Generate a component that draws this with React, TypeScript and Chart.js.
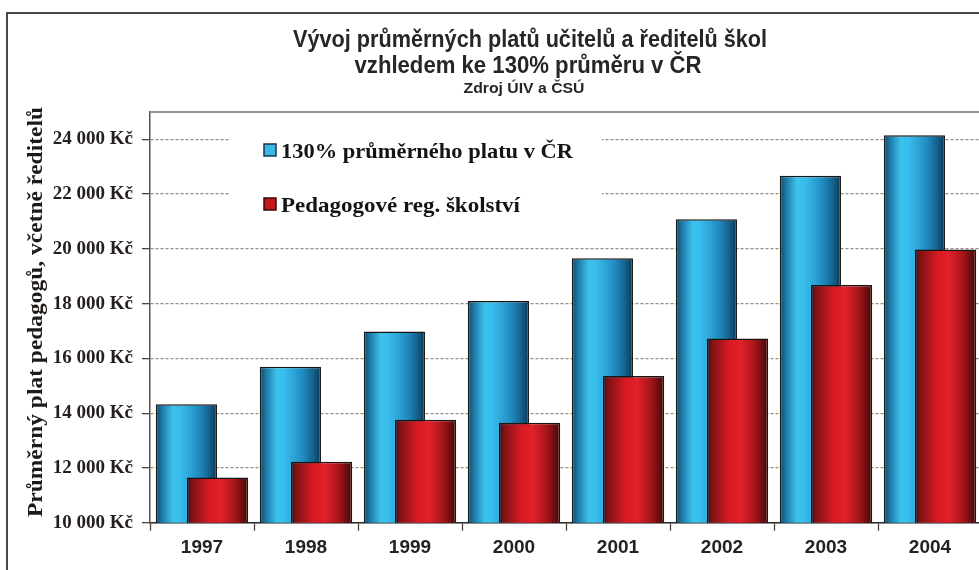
import React, { useEffect, useRef } from "react";
import { Chart, registerables } from "chart.js";

Chart.register(...registerables);

// ---- data ----
const years = ["1997", "1998", "1999", "2000", "2001", "2002", "2003", "2004"];
const avg130 = [14330, 15700, 16980, 18100, 19660, 21080, 22670, 24150];
const teachers = [11650, 12230, 13760, 13650, 15360, 16730, 18680, 19980];
const yTickValues = [10000, 12000, 14000, 16000, 18000, 20000, 22000, 24000];
const seriesNames = ["130% průměrného platu v ČR", "Pedagogové reg. školství"];
const titleLines = ["Vývoj průměrných platů učitelů a ředitelů škol", "vzhledem ke 130% průměru v ČR"];
const subtitleText = "Zdroj ÚIV a ČSÚ";
const yTitleText = "Průměrný plat pedagogů, včetně ředitelů";

const CAT_PCT = 0.6;
const BAR_PCT = 1.96;

const blueStops: [number, string][] = [
  [0, "#0d3f5c"], [0.07, "#176d96"], [0.28, "#3cc3ee"], [0.42, "#38bbea"],
  [0.72, "#1f88bf"], [0.9, "#145a82"], [1, "#0b3550"],
];
const redStops: [number, string][] = [
  [0, "#4e0a0c"], [0.1, "#861316"], [0.38, "#d91b22"], [0.55, "#e0202a"],
  [0.78, "#a8161b"], [0.92, "#650d10"], [1, "#420808"],
];

const fmtKc = (v: number) => String(v).replace(/\B(?=(\d{3})+(?!\d))/g, " ") + " Kč";

function barGradient(stops: [number, string][], side: number) {
  return (ctx: any) => {
    const chart = ctx.chart;
    const xs = chart.scales && chart.scales.x;
    if (ctx.type !== "data" || !xs || !chart.chartArea) return stops[3][1];
    const catW = Math.abs(xs.getPixelForValue(1) - xs.getPixelForValue(0));
    const slot = (catW * CAT_PCT) / 2;
    const center = xs.getPixelForValue(ctx.dataIndex) + (side * slot) / 2;
    const half = (slot * BAR_PCT) / 2;
    const g = chart.ctx.createLinearGradient(center - half, 0, center + half, 0);
    stops.forEach(([o, c]) => g.addColorStop(o, c));
    return g;
  };
}

function fitText(
  ctx: CanvasRenderingContext2D, text: string, x: number, y: number,
  width: number, font: string, align: CanvasTextAlign, rotate = 0
) {
  ctx.save();
  ctx.font = font;
  const w = ctx.measureText(text).width;
  ctx.translate(x, y);
  if (rotate) ctx.rotate(rotate);
  ctx.scale(width / w, 1);
  ctx.textAlign = align;
  ctx.textBaseline = "alphabetic";
  ctx.fillText(text, 0, 0);
  ctx.restore();
}

const decorPlugin = {
  id: "decor",
  beforeDatasetDraw(_chart: any, args: any) {
    if (args.index === 1) return false;
  },
  beforeDatasetsDraw(chart: any) {
    const { ctx, chartArea } = chart;
    ctx.save();
    // plot top border
    ctx.strokeStyle = "#9c918d";
    ctx.lineWidth = 2;
    ctx.beginPath();
    ctx.moveTo(chartArea.left, chartArea.top);
    ctx.lineTo(chartArea.right, chartArea.top);
    ctx.stroke();
    // legend box
    ctx.fillStyle = "#ffffff";
    ctx.fillRect(230, 118, 372, 114);
    const rows = [
      { y: 151, fill: "#3bb8e8", stroke: "#163848", w: 292 },
      { y: 205, fill: "#c6161c", stroke: "#3a0808", w: 239 },
    ];
    rows.forEach((r, i) => {
      ctx.fillStyle = r.fill;
      ctx.fillRect(264, r.y - 7, 12, 12);
      ctx.strokeStyle = r.stroke;
      ctx.lineWidth = 1.5;
      ctx.strokeRect(264, r.y - 7, 12, 12);
      ctx.fillStyle = "#141414";
      fitText(ctx, seriesNames[i], 281, r.y + 7, r.w, "bold 21px 'Liberation Serif', 'DejaVu Serif', serif", "left");
    });
    ctx.restore();
  },
  afterDatasetsDraw(chart: any) {
    const meta = chart.getDatasetMeta(1);
    const { ctx, chartArea } = chart;
    if (meta && !meta.hidden) {
      ctx.save();
      ctx.beginPath();
      ctx.rect(chartArea.left - 2, chartArea.top - 2, chartArea.right - chartArea.left + 4, chartArea.bottom - chartArea.top + 2);
      ctx.clip();
      meta.controller.draw();
      ctx.restore();
    }
  },
  afterDraw(chart: any) {
    const { ctx } = chart;
    ctx.save();
    // outer frame
    ctx.strokeStyle = "#4a4a4a";
    ctx.lineWidth = 2;
    ctx.beginPath();
    ctx.moveTo(7, 600);
    ctx.lineTo(7, 13);
    ctx.lineTo(1000, 13);
    ctx.stroke();
    // titles
    ctx.fillStyle = "#262626";
    const sans = "'Liberation Sans', Arial, sans-serif";
    fitText(ctx, titleLines[0], 530, 47, 474, `bold 23px ${sans}`, "center");
    fitText(ctx, titleLines[1], 528, 73, 347, `bold 23px ${sans}`, "center");
    fitText(ctx, subtitleText, 524, 93, 121, `bold 14px ${sans}`, "center");
    // y axis title
    ctx.fillStyle = "#1e1a18";
    fitText(ctx, yTitleText, 42, 312, 410, "bold 22px 'Liberation Serif', 'DejaVu Serif', serif", "center", -Math.PI / 2);
    ctx.restore();
  },
};

export default function App() {
  const ref = useRef<HTMLCanvasElement | null>(null);

  useEffect(() => {
    const canvas = ref.current;
    if (!canvas) return;
    const chart = new Chart(canvas, {
      type: "bar",
      data: {
        labels: years,
        datasets: [
          {
            label: seriesNames[0],
            data: avg130,
            backgroundColor: barGradient(blueStops, -1) as any,
            borderColor: "#161616",
            borderWidth: 1.5,
            categoryPercentage: CAT_PCT,
            barPercentage: BAR_PCT,
          },
          {
            label: seriesNames[1],
            data: teachers,
            backgroundColor: barGradient(redStops, 1) as any,
            borderColor: "#161616",
            borderWidth: 1.5,
            categoryPercentage: CAT_PCT,
            barPercentage: BAR_PCT,
          },
        ],
      },
      options: {
        responsive: false,
        animation: false,
        devicePixelRatio: 1,
        layout: { padding: { left: 0, top: 112, right: 18, bottom: 0 } },
        plugins: {
          legend: { display: false },
          tooltip: { enabled: false },
          title: { display: false },
        },
        scales: {
          x: {
            offset: true,
            grid: {
              offset: true,
              drawOnChartArea: false,
              drawTicks: true,
              tickLength: 8,
              tickColor: "#4a4040",
              tickWidth: 1.3,
            },
            border: { display: true, color: "#2a2a2a", width: 1.5 },
            ticks: {
              color: "#222222",
              font: { family: "'Liberation Sans', Arial, sans-serif", size: 19, weight: "bold" },
              padding: 6,
              maxRotation: 0,
              autoSkip: false,
            },
            afterFit(scale: any) {
              scale.height = 77.3;
            },
          },
          y: {
            min: 10000,
            max: 25000,
            ticks: {
              stepSize: 2000,
              includeBounds: false,
              color: "#241e1c",
              font: { family: "'Liberation Serif', 'DejaVu Serif', serif", size: 19, weight: "bold" },
              padding: 9,
              callback: (v: any) => fmtKc(Number(v)),
            },
            afterBuildTicks(scale: any) {
              scale.ticks = yTickValues.map((v) => ({ value: v }));
            },
            grid: {
              color: "rgba(128,110,104,0.8)",
              lineWidth: 1.3,
              tickLength: 8,
              tickColor: "#4a4040",
              tickWidth: 1.3,
            },
            border: { display: true, color: "#5b5350", width: 1.5, dash: [3, 2] },
            afterFit(scale: any) {
              scale.width = 150;
            },
          },
        },
      },
      plugins: [decorPlugin],
    } as any);
    return () => chart.destroy();
  }, []);

  return (
    <div
      style={{
        position: "absolute",
        left: 0,
        top: 0,
        width: 979,
        height: 570,
        overflow: "hidden",
        background: "#ffffff",
      }}
    >
      <canvas ref={ref} width={1000} height={600} style={{ display: "block", width: 1000, height: 600 }} />
    </div>
  );
}
